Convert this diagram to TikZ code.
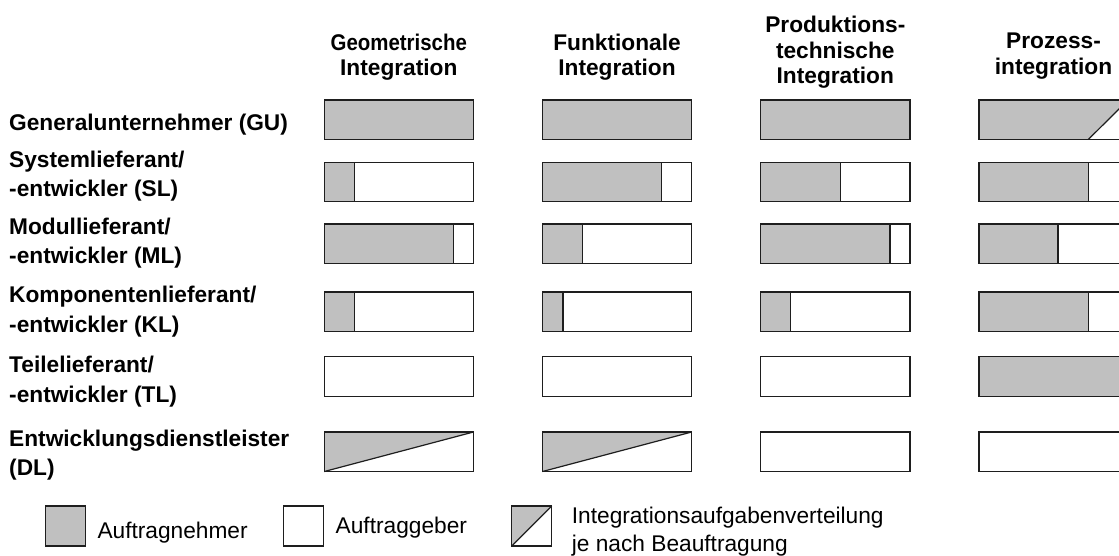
\documentclass[tikz,border=0pt]{standalone}
\usepackage{fontspec}
\setmainfont{Liberation Sans}
\definecolor{shgray}{RGB}{192,192,192}
\definecolor{edge}{RGB}{30,30,30}
% cell width and height
\def\cw{149.2}
\def\ch{39.5}
% gray part from the left up to a fraction of the width
\newcommand\cellsplit[3]{%
  \fill[share] (#1,#2) rectangle ({#1+\cw*#3},{#2+\ch});
  \draw[frame] ({#1+\cw*#3},#2) -- ({#1+\cw*#3},{#2+\ch});
  \draw[frame] (#1,#2) rectangle ({#1+\cw},{#2+\ch});}
\newcommand\cellfull[2]{%
  \draw[frame,share] (#1,#2) rectangle ({#1+\cw},{#2+\ch});}
\newcommand\cellempty[2]{%
  \draw[frame] (#1,#2) rectangle ({#1+\cw},{#2+\ch});}
% gray upper-left triangle, diagonal bottom-left to top-right
\newcommand\celldiag[2]{%
  \fill[share] (#1,{#2+\ch}) -- (#1,#2) -- ({#1+\cw},#2) -- cycle;
  \draw[frame] (#1,{#2+\ch}) -- ({#1+\cw},#2);
  \draw[frame] (#1,#2) rectangle ({#1+\cw},{#2+\ch});}
% gray with a white wedge at the right end
\newcommand\cellwedge[3]{%
  \fill[share] (#1,#2) -- ({#1+\cw},#2) -- ({#1+\cw*#3},{#2+\ch}) -- (#1,{#2+\ch}) -- cycle;
  \draw[frame] ({#1+\cw*#3},{#2+\ch}) -- ({#1+\cw},#2);
  \draw[frame] (#1,#2) rectangle ({#1+\cw},{#2+\ch});}
\begin{document}
\begin{tikzpicture}[x=1pt,y=-1pt,
  frame/.style={draw=edge, line width=1.2pt},
  share/.style={fill=shgray},
  lab/.style={font=\fontsize{22.7}{27}\selectfont\bfseries, inner sep=0pt, anchor=base west},
  head/.style={font=\fontsize{22.7}{27}\selectfont\bfseries, inner sep=0pt, anchor=base},
  leg/.style={font=\fontsize{22.7}{27}\selectfont, inner sep=0pt, anchor=base west}]
\useasboundingbox (0,0) rectangle (1119,555);
\clip (0,0) rectangle (1119,555);

% column left edges and row top edges
\def\xA{324.3}\def\xB{542.5}\def\xC{760.7}\def\xD{978.9}
\def\yGU{100}\def\ySL{162.3}\def\yML{224}\def\yKL{292}\def\yTL{356.7}\def\yDL{432}

% column headings
\node[head] (hA1) at (398.8,50) {\scalebox{0.9}[1]{Geometrische}};
\node[head] (hA2) at (398.8,75.5) {Integration};
\node[head] (hB1) at (617,50) {Funktionale};
\node[head] (hB2) at (617,75.5) {Integration};
\node[head] (hC1) at (835.3,32) {Produktions-};
\node[head] (hC2) at (835.3,58) {technische};
\node[head] (hC3) at (835.3,83.5) {Integration};
\node[head] (hD1) at (1053.5,48) {Prozess-};
\node[head] (hD2) at (1053.5,74) {integration};

% row labels
\node[lab] (rGU) at (9,130) {Generalunternehmer (GU)};
\node[lab] (rSL1) at (9,167.3) {Systemlieferant/};
\node[lab] (rSL2) at (9,196.8) {-entwickler (SL)};
\node[lab] (rML1) at (9,234.5) {Modullieferant/};
\node[lab] (rML2) at (9,263.5) {-entwickler (ML)};
\node[lab] (rKL1) at (9,302.7) {Komponentenlieferant/};
\node[lab] (rKL2) at (9,332.5) {-entwickler (KL)};
\node[lab] (rTL1) at (9,372) {Teilelieferant/};
\node[lab] (rTL2) at (9,402) {-entwickler (TL)};
\node[lab] (rDL1) at (9,446.7) {Entwicklungsdienstleister};
\node[lab] (rDL2) at (9,475) {(DL)};

% Generalunternehmer
\cellfull{\xA}{\yGU}
\cellfull{\xB}{\yGU}
\cellfull{\xC}{\yGU}
\cellwedge{\xD}{\yGU}{0.733}
% Systemlieferant
\cellsplit{\xA}{\ySL}{0.2}
\cellsplit{\xB}{\ySL}{0.8}
\cellsplit{\xC}{\ySL}{0.533}
\cellsplit{\xD}{\ySL}{0.733}
% Modullieferant
\cellsplit{\xA}{\yML}{0.866}
\cellsplit{\xB}{\yML}{0.27}
\cellsplit{\xC}{\yML}{0.866}
\cellsplit{\xD}{\yML}{0.53}
% Komponentenlieferant
\cellsplit{\xA}{\yKL}{0.2}
\cellsplit{\xB}{\yKL}{0.137}
\cellsplit{\xC}{\yKL}{0.2}
\cellsplit{\xD}{\yKL}{0.733}
% Teilelieferant
\cellempty{\xA}{\yTL}
\cellempty{\xB}{\yTL}
\cellempty{\xC}{\yTL}
\cellfull{\xD}{\yTL}
% Entwicklungsdienstleister
\celldiag{\xA}{\yDL}
\celldiag{\xB}{\yDL}
\cellempty{\xC}{\yDL}
\cellempty{\xD}{\yDL}

% legend
\draw[frame,share] (45.7,506) rectangle (85.7,546);
\node[leg] (lgA) at (97.3,538.3) {Auftragnehmer};
\draw[frame] (283.3,506) rectangle (323.3,546);
\node[leg] (lgB) at (335.5,533.3) {Auftraggeber};
\fill[share] (511.7,546) -- (511.7,506) -- (551.7,506) -- cycle;
\draw[frame] (511.7,546) -- (551.7,506);
\draw[frame] (511.7,506) rectangle (551.7,546);
\node[leg] (lgC1) at (571.7,523.5) {Integrationsaufgabenverteilung};
\node[leg] (lgC2) at (571.7,551.5) {je nach Beauftragung};
\end{tikzpicture}
\end{document}
